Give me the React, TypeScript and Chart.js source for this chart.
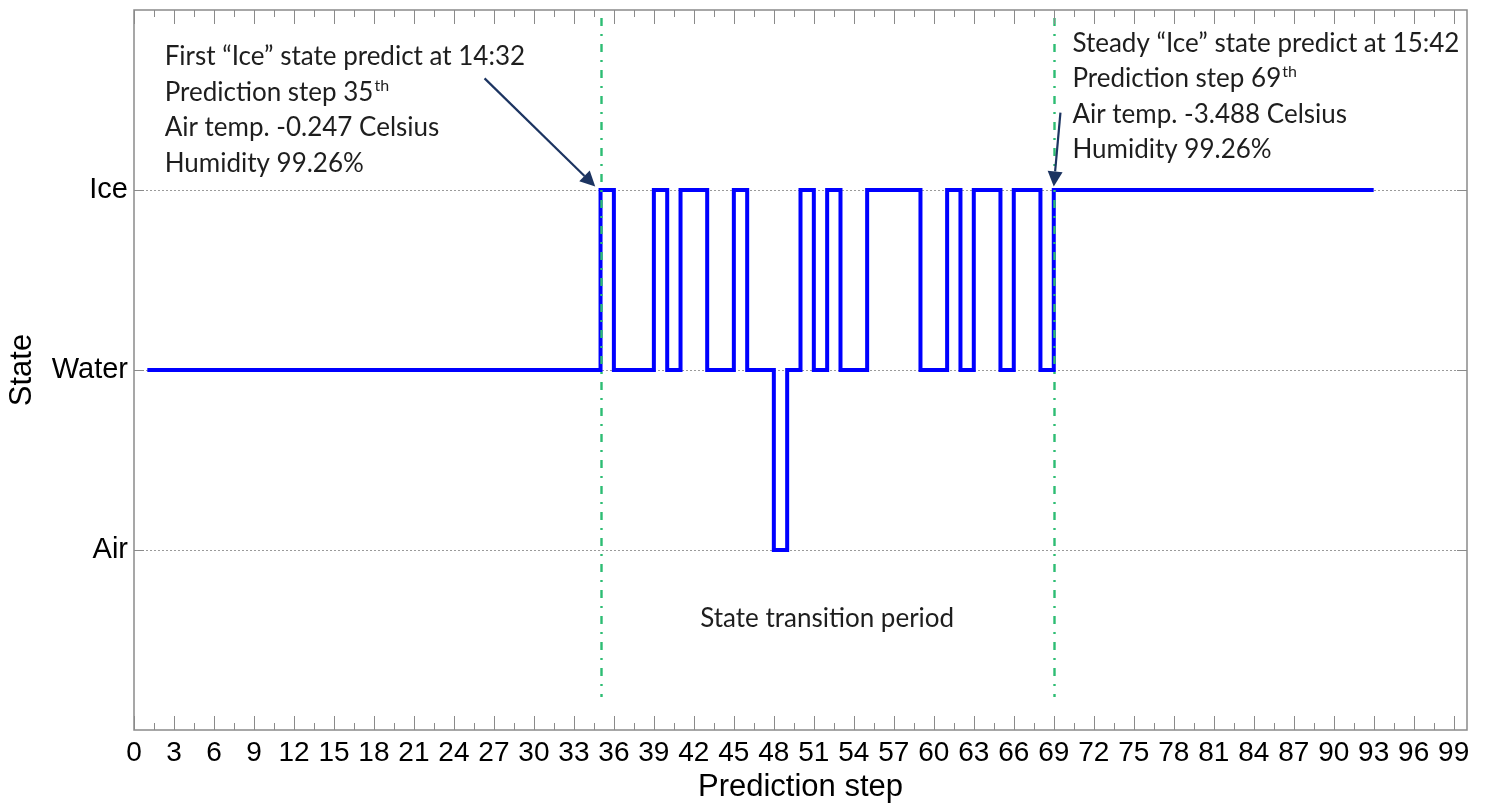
import React, { useEffect, useRef } from 'react';
import { Chart, registerables } from 'chart.js';

Chart.register(...registerables);

// ---- data ----
const stateLabels = ['Air', 'Water', 'Ice']; // y values 1, 2, 3
const stepChanges = [1, 35, 36, 39, 40, 41, 43, 45, 46, 48, 49, 50, 51, 52, 53, 55, 59, 61, 62, 63, 65, 66, 68, 69, 93];
const stateAtChange = ['Water', 'Ice', 'Water', 'Ice', 'Water', 'Ice', 'Water', 'Ice', 'Water', 'Air', 'Water', 'Ice', 'Water', 'Ice', 'Water', 'Ice', 'Water', 'Ice', 'Water', 'Ice', 'Water', 'Ice', 'Water', 'Ice', 'Ice'];
const markerSteps = [35, 69];
const xMin = 0;
const xMax = 100;
const xLabelStep = 3;
const xMinorStep = 1.5;
const xLastTick = 99;

const note1Lines: [string, string][] = [
  ['First “Ice” state predict at 14:32', ''],
  ['Prediction step 35', 'th'],
  ['Air temp. -0.247 Celsius', ''],
  ['Humidity 99.26%', ''],
];
const note2Lines: [string, string][] = [
  ['Steady “Ice” state predict at 15:42', ''],
  ['Prediction step 69', 'th'],
  ['Air temp. -3.488 Celsius', ''],
  ['Humidity 99.26%', ''],
];
const periodLabel = 'State transition period';

// annotation anchors in data units
const note1Anchor = { x: 2.3, y: 3.694 };
const note2Anchor = { x: 70.4, y: 3.768 };
const arrow1 = { from: { x: 26.3, y: 3.62 }, to: { x: 34.6, y: 3.02 } };
const arrow2 = { from: { x: 69.5, y: 3.43 }, to: { x: 69.0, y: 3.02 } };
const periodAnchor = { x: 52.0, y: 0.617 };

const NOTE_FONT = 'Lato, "Open Sans", sans-serif';
const NOTE_SIZE = 26;
const AXIS_FONT = '"Liberation Sans", Arial, sans-serif';

function drawArrow(ctx: CanvasRenderingContext2D, x1: number, y1: number, x2: number, y2: number) {
  const ang = Math.atan2(y2 - y1, x2 - x1);
  const head = 15;
  const hw = 7.5;
  const bx = x2 - head * Math.cos(ang);
  const by = y2 - head * Math.sin(ang);
  ctx.strokeStyle = '#1c3461';
  ctx.fillStyle = '#1c3461';
  ctx.lineWidth = 2.2;
  ctx.beginPath();
  ctx.moveTo(x1, y1);
  ctx.lineTo(bx, by);
  ctx.stroke();
  ctx.beginPath();
  ctx.moveTo(x2, y2);
  ctx.lineTo(bx + hw * Math.sin(ang), by - hw * Math.cos(ang));
  ctx.lineTo(bx - hw * Math.sin(ang), by + hw * Math.cos(ang));
  ctx.closePath();
  ctx.fill();
}

function drawNote(ctx: CanvasRenderingContext2D, x: number, y: number, lines: [string, string][]) {
  ctx.fillStyle = '#1e1e1e';
  ctx.textAlign = 'left';
  ctx.textBaseline = 'alphabetic';
  const lh = 35.5;
  lines.forEach(([txt, sup], i) => {
    const by = y + i * lh;
    ctx.font = `${NOTE_SIZE}px ${NOTE_FONT}`;
    ctx.fillText(txt, x, by);
    if (sup) {
      const w = ctx.measureText(txt).width;
      ctx.font = `${Math.round(NOTE_SIZE * 0.62)}px ${NOTE_FONT}`;
      ctx.fillText(sup, x + w + 1, by - NOTE_SIZE * 0.38);
    }
  });
}

const isMajor = (v: number) => Math.abs(v / xLabelStep - Math.round(v / xLabelStep)) < 1e-6;

const decorPlugin = {
  id: 'decor',
  beforeDatasetsDraw(chart: any) {
    const { ctx, chartArea: a, scales } = chart;
    const y = scales.y;
    ctx.save();
    stateLabels.forEach((_, i) => {
      const py = Math.round(y.getPixelForValue(i + 1)) + 0.5;
      ctx.strokeStyle = '#9a9a9a';
      ctx.lineWidth = 1;
      ctx.setLineDash([2, 2]);
      ctx.beginPath();
      ctx.moveTo(a.left, py);
      ctx.lineTo(a.right, py);
      ctx.stroke();
      ctx.setLineDash([]);
      ctx.strokeStyle = '#8a8a8a';
      ctx.beginPath();
      ctx.moveTo(a.left, py);
      ctx.lineTo(a.left + 10, py);
      ctx.moveTo(a.right, py);
      ctx.lineTo(a.right - 10, py);
      ctx.stroke();
    });
    ctx.restore();
  },
  afterDatasetsDraw(chart: any) {
    const { ctx, chartArea: a, scales } = chart;
    const x = scales.x;
    const y = scales.y;
    ctx.save();
    // marker lines
    ctx.strokeStyle = '#2dbd73';
    ctx.lineWidth = 2.4;
    ctx.setLineDash([8, 8, 2, 8]);
    markerSteps.forEach((s) => {
      const px = Math.round(x.getPixelForValue(s)) + 0.5;
      ctx.beginPath();
      ctx.moveTo(px, a.top + 8);
      ctx.lineTo(px, a.bottom - 33);
      ctx.stroke();
    });
    ctx.setLineDash([]);
    // frame
    ctx.strokeStyle = '#8a8a8a';
    ctx.lineWidth = 1.5;
    ctx.strokeRect(a.left, a.top, a.right - a.left, a.bottom - a.top);
    // x ticks (inward, top and bottom)
    ctx.lineWidth = 1;
    ctx.beginPath();
    x.ticks.forEach((t: any) => {
      const v = t.value;
      const len = isMajor(v) ? 14 : 7;
      const px = Math.round(x.getPixelForValue(v)) + 0.5;
      ctx.moveTo(px, a.bottom);
      ctx.lineTo(px, a.bottom - len);
      ctx.moveTo(px, a.top);
      ctx.lineTo(px, a.top + len);
    });
    ctx.stroke();
    // arrows
    drawArrow(ctx, x.getPixelForValue(arrow1.from.x), y.getPixelForValue(arrow1.from.y), x.getPixelForValue(arrow1.to.x), y.getPixelForValue(arrow1.to.y));
    drawArrow(ctx, x.getPixelForValue(arrow2.from.x), y.getPixelForValue(arrow2.from.y), x.getPixelForValue(arrow2.to.x), y.getPixelForValue(arrow2.to.y));
    // notes
    drawNote(ctx, x.getPixelForValue(note1Anchor.x), y.getPixelForValue(note1Anchor.y), note1Lines);
    drawNote(ctx, x.getPixelForValue(note2Anchor.x), y.getPixelForValue(note2Anchor.y), note2Lines);
    ctx.font = `${NOTE_SIZE}px ${NOTE_FONT}`;
    ctx.fillStyle = '#1e1e1e';
    ctx.textAlign = 'center';
    ctx.textBaseline = 'middle';
    ctx.fillText(periodLabel, x.getPixelForValue(periodAnchor.x), y.getPixelForValue(periodAnchor.y));
    ctx.restore();
  },
};

export default function App() {
  const ref = useRef<HTMLCanvasElement | null>(null);
  useEffect(() => {
    if (!ref.current) return;
    const points = stepChanges.map((s, i) => ({ x: s, y: stateLabels.indexOf(stateAtChange[i]) + 1 }));
    const chart = new Chart(ref.current, {
      type: 'line',
      data: {
        datasets: [
          {
            data: points,
            borderColor: '#0000ff',
            borderWidth: 4,
            pointRadius: 0,
            stepped: true,
            fill: false,
            borderJoinStyle: 'miter',
          } as any,
        ],
      },
      options: {
        animation: false,
        responsive: false,
        layout: { padding: { top: 10, right: 20, left: 0, bottom: 0 } },
        plugins: { legend: { display: false }, tooltip: { enabled: false }, title: { display: false } },
        scales: {
          x: {
            type: 'linear',
            min: xMin,
            max: xMax,
            grid: { display: false, drawTicks: false },
            border: { display: false },
            afterBuildTicks: (s: any) => {
              const ticks: { value: number }[] = [];
              for (let v = xMin; v <= xLastTick + 1e-9; v += xMinorStep) ticks.push({ value: v });
              s.ticks = ticks;
            },
            ticks: {
              autoSkip: false,
              maxRotation: 0,
              padding: 6,
              color: '#000',
              font: { family: AXIS_FONT, size: 28 },
              callback: (v: any) => {
                const n = Number(v);
                return isMajor(n) ? String(Math.round(n)) : '';
              },
            },
            title: {
              display: true,
              text: 'Prediction step',
              color: '#000',
              padding: 0,
              font: { family: AXIS_FONT, size: 31 },
            },
            afterFit: (s: any) => {
              s.height = 76;
              s.paddingLeft = 0;
              s.paddingRight = 0;
            },
          },
          y: {
            type: 'linear',
            min: 0,
            max: 4,
            grid: { display: false, drawTicks: false },
            border: { display: false },
            afterBuildTicks: (s: any) => {
              s.ticks = stateLabels.map((_, i) => ({ value: i + 1 }));
            },
            ticks: {
              padding: 6,
              color: '#000',
              font: { family: AXIS_FONT, size: 29 },
              callback: (v: any) => stateLabels[Number(v) - 1] ?? '',
            },
            title: {
              display: true,
              text: 'State',
              color: '#000',
              padding: 4,
              font: { family: AXIS_FONT, size: 31 },
            },
            afterFit: (s: any) => {
              s.width = 134;
              s.paddingTop = 0;
              s.paddingBottom = 0;
            },
          },
        },
      },
      plugins: [decorPlugin],
    });
    return () => chart.destroy();
  }, []);
  return (
    <div style={{ position: 'fixed', left: 0, top: 0, width: 1487, height: 806, background: '#fff' }}>
      <canvas ref={ref} width={1487} height={806} style={{ display: 'block' }} />
    </div>
  );
}
